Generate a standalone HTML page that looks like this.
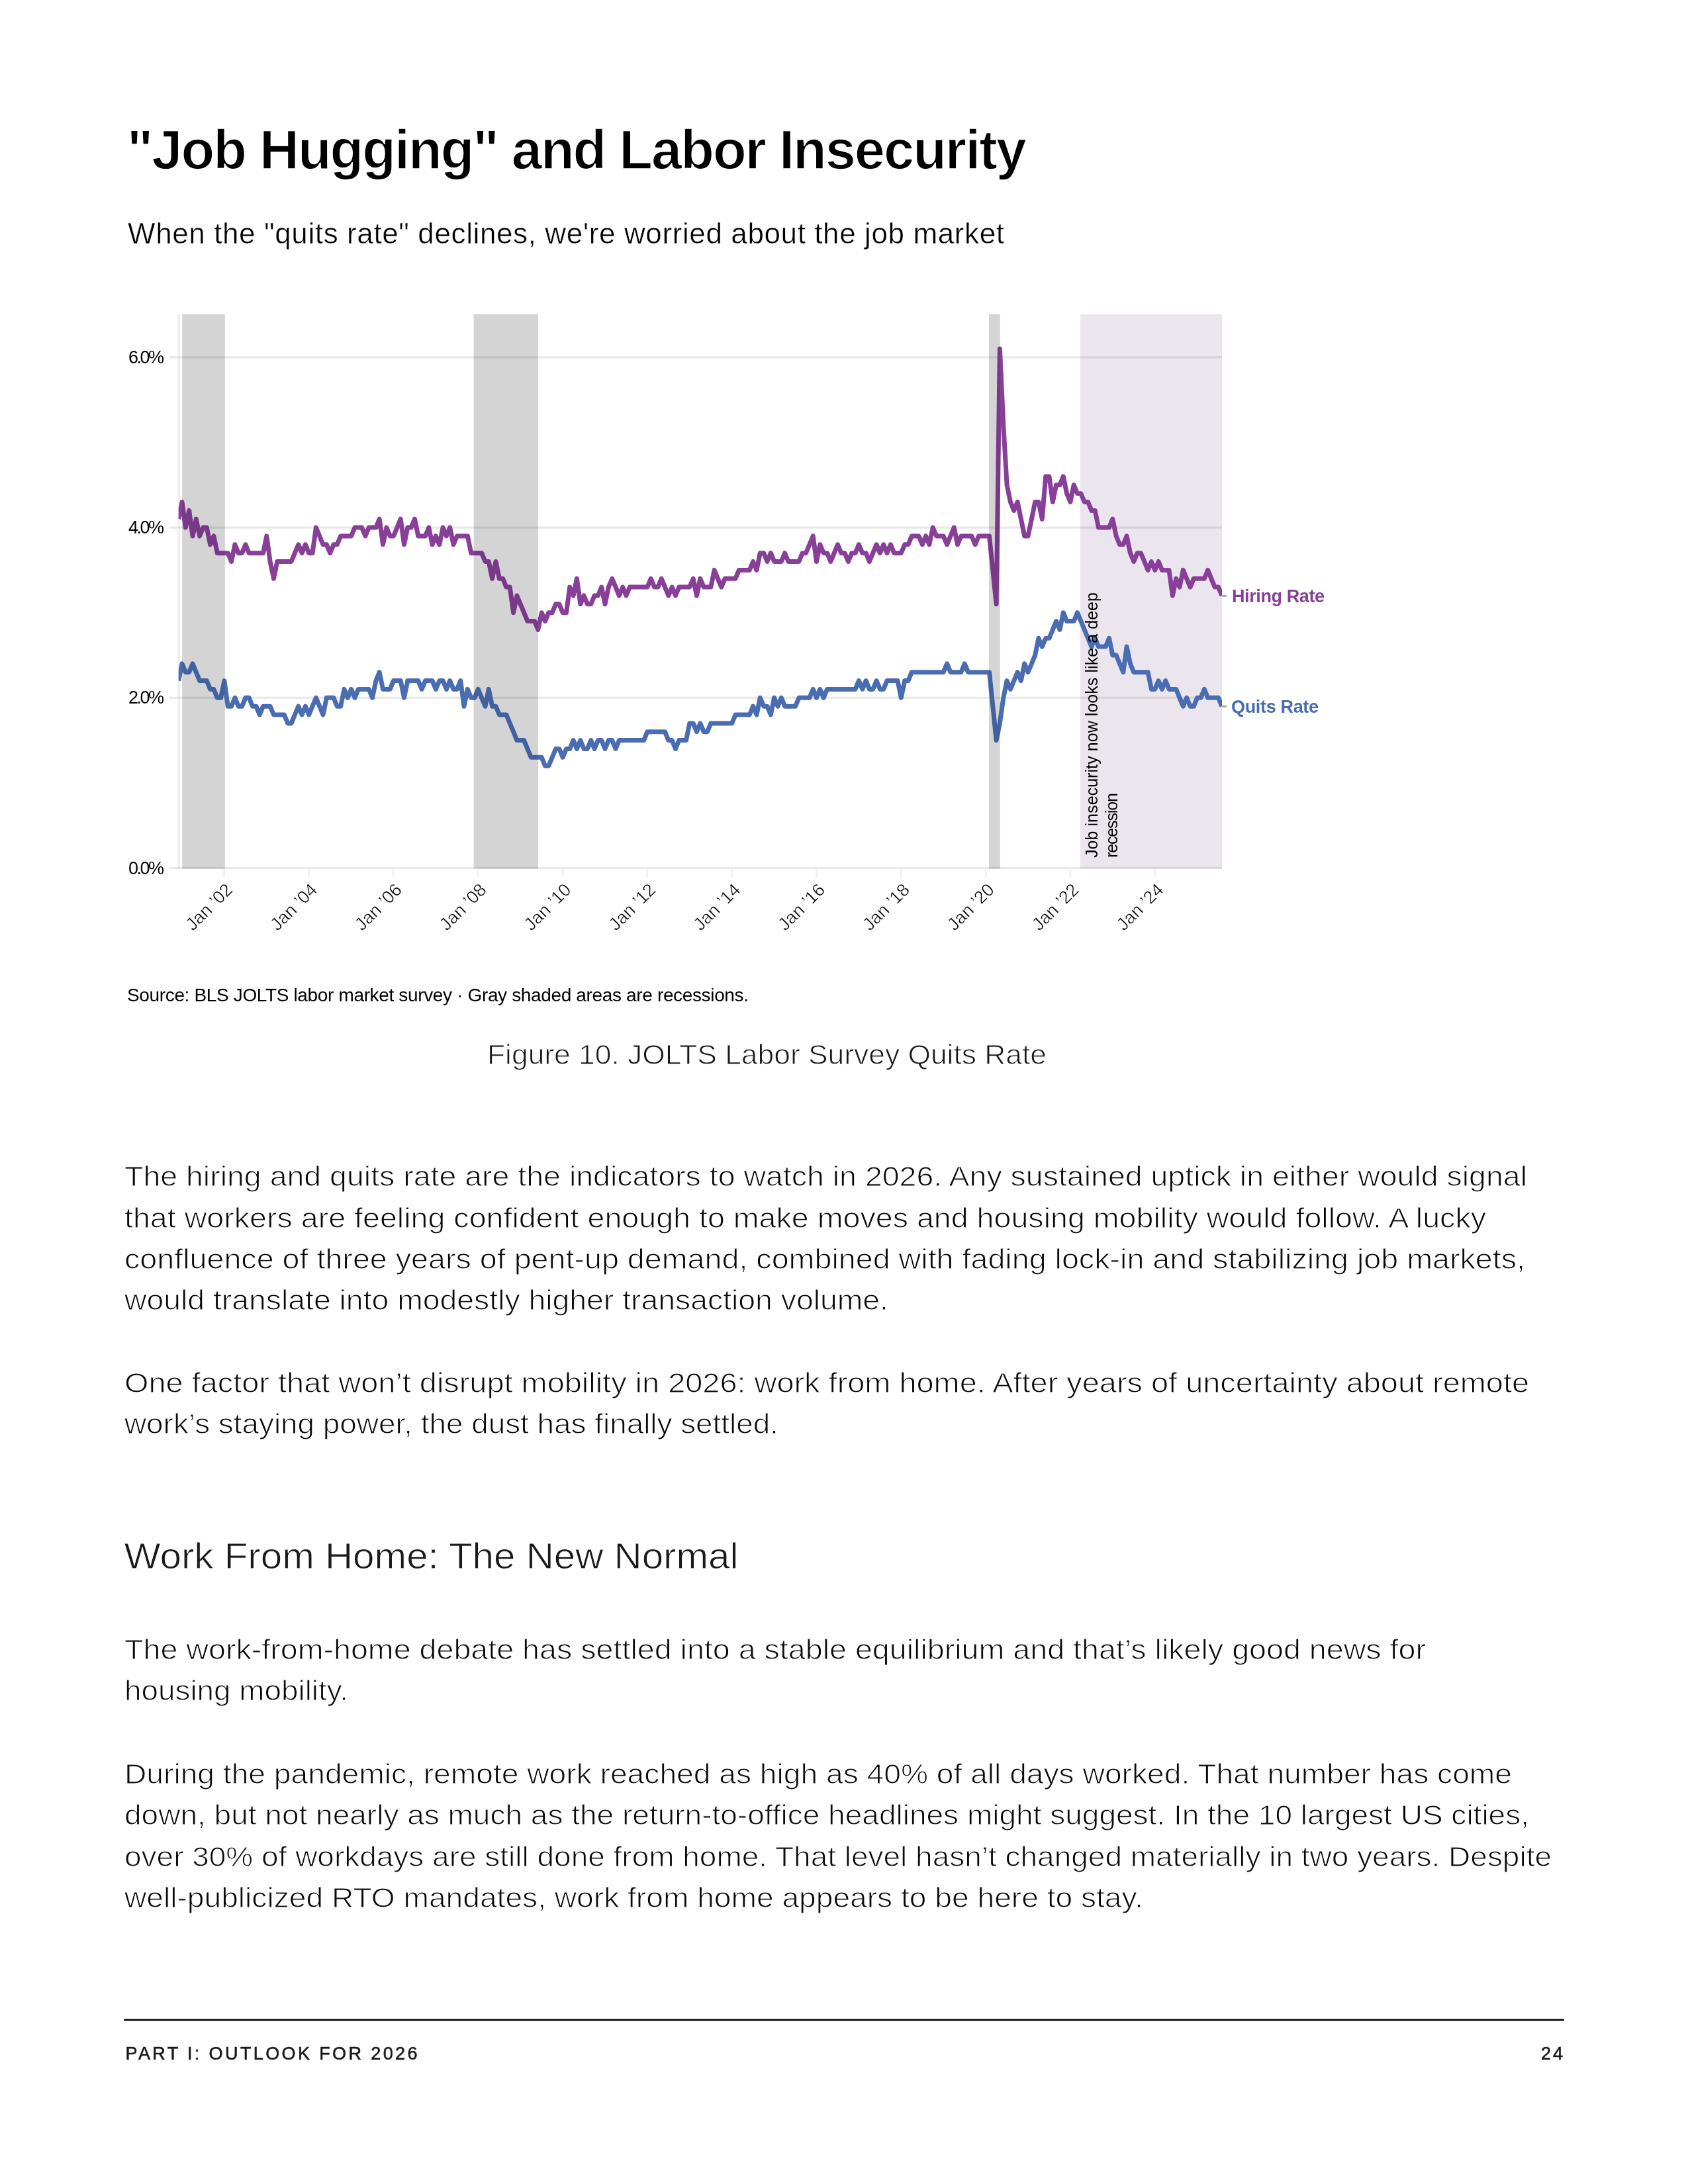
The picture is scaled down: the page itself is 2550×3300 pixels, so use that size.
<!DOCTYPE html>
<html><head><meta charset="utf-8"><title>Job Hugging</title>
<style>
html,body{margin:0;padding:0;background:#fff;}
body{width:2550px;height:3300px;overflow:hidden;}
svg{display:block;}
text{font-family:"Liberation Sans", sans-serif;}
</style></head><body>
<svg width="2550" height="3300" viewBox="0 0 2550 3300">
<rect x="0" y="0" width="2550" height="3300" fill="#fff"/>
<text x="192" y="254.5" font-size="83" font-weight="bold" fill="#000" textLength="1359" lengthAdjust="spacing" stroke="#fff" stroke-width="1.6">"Job Hugging" and Labor Insecurity</text>
<text x="193" y="368" font-size="44" font-weight="normal" fill="#000" textLength="1324" lengthAdjust="spacing" stroke="#fff" stroke-width="0.5">When the "quits rate" declines, we're worried about the job market</text>
<defs><clipPath id="plotclip"><rect x="269.7" y="400" width="1576.3" height="1000"/></clipPath></defs>
<rect x="1632" y="474.8" width="214" height="837.7" fill="#ebe6ed"/>
<rect x="275.2" y="474.8" width="64.7" height="837.7" fill="#edecee"/>
<rect x="715.6" y="474.8" width="97.3" height="837.7" fill="#edecee"/>
<rect x="1494" y="474.8" width="16.8" height="837.7" fill="#edecee"/>
<rect x="268.4" y="474.8" width="3.6" height="837.7" fill="#efefef"/>
<rect x="255" y="1309.9" width="1591" height="3.2" fill="#e9e9e9" style="mix-blend-mode:multiply"/>
<rect x="255" y="1052.7" width="1591" height="3.2" fill="#e9e9e9" style="mix-blend-mode:multiply"/>
<rect x="255" y="795.5" width="1591" height="3.2" fill="#e9e9e9" style="mix-blend-mode:multiply"/>
<rect x="255" y="538.3" width="1591" height="3.2" fill="#e9e9e9" style="mix-blend-mode:multiply"/>
<rect x="337.3" y="1313" width="2.4" height="13" fill="#efefef"/>
<rect x="465.2" y="1313" width="2.4" height="13" fill="#efefef"/>
<rect x="593.0" y="1313" width="2.4" height="13" fill="#efefef"/>
<rect x="720.8" y="1313" width="2.4" height="13" fill="#efefef"/>
<rect x="848.7" y="1313" width="2.4" height="13" fill="#efefef"/>
<rect x="976.5" y="1313" width="2.4" height="13" fill="#efefef"/>
<rect x="1104.4" y="1313" width="2.4" height="13" fill="#efefef"/>
<rect x="1232.2" y="1313" width="2.4" height="13" fill="#efefef"/>
<rect x="1360.1" y="1313" width="2.4" height="13" fill="#efefef"/>
<rect x="1487.9" y="1313" width="2.4" height="13" fill="#efefef"/>
<rect x="1615.8" y="1313" width="2.4" height="13" fill="#efefef"/>
<rect x="1743.6" y="1313" width="2.4" height="13" fill="#efefef"/>
<path d="M269.7,784.2 L275.0,758.5 L280.3,797.1 L285.7,771.4 L291.0,810.0 L296.3,784.2 L301.6,810.0 L307.0,797.1 L312.3,797.1 L317.6,822.8 L322.9,810.0 L328.3,835.7 L333.6,835.7 L338.9,835.7 L344.2,835.7 L349.6,848.5 L354.9,822.8 L360.2,835.7 L365.6,835.7 L370.9,822.8 L376.2,835.7 L381.5,835.7 L386.9,835.7 L392.2,835.7 L397.5,835.7 L402.8,810.0 L408.1,848.5 L413.5,874.3 L418.8,848.5 L424.1,848.5 L429.4,848.5 L434.8,848.5 L440.1,848.5 L445.4,835.7 L450.8,822.8 L456.1,835.7 L461.4,822.8 L466.7,835.7 L472.0,835.7 L477.4,797.1 L482.7,810.0 L488.0,822.8 L493.4,822.8 L498.7,835.7 L504.0,822.8 L509.3,822.8 L514.6,810.0 L520.0,810.0 L525.3,810.0 L530.6,810.0 L536.0,797.1 L541.3,797.1 L546.6,797.1 L551.9,810.0 L557.2,797.1 L562.6,797.1 L567.9,797.1 L573.2,784.2 L578.5,822.8 L583.9,797.1 L589.2,810.0 L594.5,810.0 L599.9,797.1 L605.2,784.2 L610.5,822.8 L615.8,797.1 L621.1,797.1 L626.5,784.2 L631.8,810.0 L637.1,810.0 L642.5,810.0 L647.8,797.1 L653.1,822.8 L658.4,810.0 L663.8,822.8 L669.1,797.1 L674.4,810.0 L679.7,797.1 L685.0,822.8 L690.4,810.0 L695.7,810.0 L701.0,810.0 L706.4,810.0 L711.7,835.7 L717.0,835.7 L722.3,835.7 L727.6,835.7 L733.0,848.5 L738.3,848.5 L743.6,874.3 L749.0,848.5 L754.3,874.3 L759.6,874.3 L764.9,887.1 L770.2,887.1 L775.6,925.7 L780.9,900.0 L786.2,912.8 L791.5,925.7 L796.9,938.6 L802.2,938.6 L807.5,938.6 L812.8,951.4 L818.2,925.7 L823.5,938.6 L828.8,925.7 L834.2,925.7 L839.5,912.8 L844.8,912.8 L850.1,925.7 L855.5,925.7 L860.8,887.1 L866.1,900.0 L871.4,874.3 L876.8,912.8 L882.1,900.0 L887.4,912.8 L892.7,912.8 L898.0,900.0 L903.4,900.0 L908.7,887.1 L914.0,912.8 L919.3,887.1 L924.7,874.3 L930.0,887.1 L935.3,900.0 L940.7,887.1 L946.0,900.0 L951.3,887.1 L956.6,887.1 L962.0,887.1 L967.3,887.1 L972.6,887.1 L977.9,887.1 L983.2,874.3 L988.6,887.1 L993.9,887.1 L999.2,874.3 L1004.5,887.1 L1009.9,900.0 L1015.2,887.1 L1020.5,900.0 L1025.8,887.1 L1031.2,887.1 L1036.5,887.1 L1041.8,887.1 L1047.2,874.3 L1052.5,900.0 L1057.8,874.3 L1063.1,887.1 L1068.5,887.1 L1073.8,887.1 L1079.1,861.4 L1084.4,874.3 L1089.8,887.1 L1095.1,874.3 L1100.4,874.3 L1105.7,874.3 L1111.0,874.3 L1116.4,861.4 L1121.7,861.4 L1127.0,861.4 L1132.3,861.4 L1137.7,848.5 L1143.0,861.4 L1148.3,835.7 L1153.7,835.7 L1159.0,848.5 L1164.3,835.7 L1169.6,848.5 L1175.0,848.5 L1180.3,848.5 L1185.6,835.7 L1190.9,848.5 L1196.2,848.5 L1201.6,848.5 L1206.9,848.5 L1212.2,835.7 L1217.5,835.7 L1222.9,822.8 L1228.2,810.0 L1233.5,848.5 L1238.8,822.8 L1244.2,835.7 L1249.5,835.7 L1254.8,848.5 L1260.2,835.7 L1265.5,822.8 L1270.8,835.7 L1276.1,835.7 L1281.5,848.5 L1286.8,835.7 L1292.1,835.7 L1297.4,822.8 L1302.8,835.7 L1308.1,835.7 L1313.4,848.5 L1318.7,835.7 L1324.1,822.8 L1329.4,835.7 L1334.7,822.8 L1340.0,835.7 L1345.4,822.8 L1350.7,835.7 L1356.0,835.7 L1361.3,835.7 L1366.7,822.8 L1372.0,822.8 L1377.3,810.0 L1382.6,810.0 L1388.0,810.0 L1393.3,822.8 L1398.6,810.0 L1403.9,822.8 L1409.2,797.1 L1414.6,810.0 L1419.9,810.0 L1425.2,810.0 L1430.6,822.8 L1435.9,810.0 L1441.2,797.1 L1446.5,822.8 L1451.9,810.0 L1457.2,810.0 L1462.5,810.0 L1467.8,810.0 L1473.2,822.8 L1478.5,810.0 L1483.8,810.0 L1489.1,810.0 L1494.5,810.0 L1499.8,861.4 L1505.1,912.8 L1510.4,527.0 L1515.8,642.8 L1521.1,732.8 L1526.4,758.5 L1531.7,771.4 L1537.1,758.5 L1542.4,784.2 L1547.7,810.0 L1553.0,810.0 L1558.4,784.2 L1563.7,758.5 L1569.0,758.5 L1574.3,784.2 L1579.7,719.9 L1585.0,719.9 L1590.3,758.5 L1595.6,732.8 L1601.0,732.8 L1606.3,719.9 L1611.6,745.7 L1616.9,758.5 L1622.2,732.8 L1627.6,745.7 L1632.9,745.7 L1638.2,758.5 L1643.6,758.5 L1648.9,771.4 L1654.2,771.4 L1659.5,797.1 L1664.9,797.1 L1670.2,797.1 L1675.5,797.1 L1680.8,784.2 L1686.2,810.0 L1691.5,822.8 L1696.8,822.8 L1702.1,810.0 L1707.5,835.7 L1712.8,848.5 L1718.1,835.7 L1723.4,835.7 L1728.8,848.5 L1734.1,861.4 L1739.4,848.5 L1744.7,861.4 L1750.1,848.5 L1755.4,861.4 L1760.7,861.4 L1766.0,861.4 L1771.4,900.0 L1776.7,874.3 L1782.0,887.1 L1787.3,861.4 L1792.7,874.3 L1798.0,887.1 L1803.3,874.3 L1808.6,874.3 L1814.0,874.3 L1819.3,874.3 L1824.6,861.4 L1829.9,874.3 L1835.2,887.1 L1840.6,887.1 L1845.9,900.0" fill="none" stroke="#883f98" stroke-width="7" clip-path="url(#plotclip)" stroke-linejoin="round" stroke-linecap="butt"/>
<path d="M269.7,1028.6 L275.0,1002.9 L280.3,1015.7 L285.7,1015.7 L291.0,1002.9 L296.3,1015.7 L301.6,1028.6 L307.0,1028.6 L312.3,1028.6 L317.6,1041.4 L322.9,1041.4 L328.3,1054.3 L333.6,1054.3 L338.9,1028.6 L344.2,1067.2 L349.6,1067.2 L354.9,1054.3 L360.2,1067.2 L365.6,1067.2 L370.9,1054.3 L376.2,1054.3 L381.5,1067.2 L386.9,1067.2 L392.2,1080.0 L397.5,1067.2 L402.8,1067.2 L408.1,1067.2 L413.5,1080.0 L418.8,1080.0 L424.1,1080.0 L429.4,1080.0 L434.8,1092.9 L440.1,1092.9 L445.4,1080.0 L450.8,1067.2 L456.1,1080.0 L461.4,1067.2 L466.7,1080.0 L472.0,1067.2 L477.4,1054.3 L482.7,1067.2 L488.0,1080.0 L493.4,1054.3 L498.7,1054.3 L504.0,1054.3 L509.3,1067.2 L514.6,1067.2 L520.0,1041.4 L525.3,1054.3 L530.6,1041.4 L536.0,1054.3 L541.3,1041.4 L546.6,1041.4 L551.9,1041.4 L557.2,1041.4 L562.6,1054.3 L567.9,1028.6 L573.2,1015.7 L578.5,1041.4 L583.9,1041.4 L589.2,1041.4 L594.5,1028.6 L599.9,1028.6 L605.2,1028.6 L610.5,1054.3 L615.8,1028.6 L621.1,1028.6 L626.5,1028.6 L631.8,1028.6 L637.1,1041.4 L642.5,1028.6 L647.8,1028.6 L653.1,1028.6 L658.4,1041.4 L663.8,1028.6 L669.1,1028.6 L674.4,1041.4 L679.7,1028.6 L685.0,1041.4 L690.4,1041.4 L695.7,1028.6 L701.0,1067.2 L706.4,1041.4 L711.7,1054.3 L717.0,1054.3 L722.3,1041.4 L727.6,1054.3 L733.0,1067.2 L738.3,1041.4 L743.6,1067.2 L749.0,1067.2 L754.3,1080.0 L759.6,1080.0 L764.9,1080.0 L770.2,1092.9 L775.6,1105.7 L780.9,1118.6 L786.2,1118.6 L791.5,1118.6 L796.9,1131.5 L802.2,1144.3 L807.5,1144.3 L812.8,1144.3 L818.2,1144.3 L823.5,1157.2 L828.8,1157.2 L834.2,1144.3 L839.5,1131.5 L844.8,1131.5 L850.1,1144.3 L855.5,1131.5 L860.8,1131.5 L866.1,1118.6 L871.4,1131.5 L876.8,1118.6 L882.1,1131.5 L887.4,1131.5 L892.7,1118.6 L898.0,1131.5 L903.4,1118.6 L908.7,1118.6 L914.0,1131.5 L919.3,1118.6 L924.7,1118.6 L930.0,1131.5 L935.3,1118.6 L940.7,1118.6 L946.0,1118.6 L951.3,1118.6 L956.6,1118.6 L962.0,1118.6 L967.3,1118.6 L972.6,1118.6 L977.9,1105.7 L983.2,1105.7 L988.6,1105.7 L993.9,1105.7 L999.2,1105.7 L1004.5,1105.7 L1009.9,1118.6 L1015.2,1118.6 L1020.5,1131.5 L1025.8,1118.6 L1031.2,1118.6 L1036.5,1118.6 L1041.8,1092.9 L1047.2,1092.9 L1052.5,1105.7 L1057.8,1092.9 L1063.1,1105.7 L1068.5,1105.7 L1073.8,1092.9 L1079.1,1092.9 L1084.4,1092.9 L1089.8,1092.9 L1095.1,1092.9 L1100.4,1092.9 L1105.7,1092.9 L1111.0,1080.0 L1116.4,1080.0 L1121.7,1080.0 L1127.0,1080.0 L1132.3,1080.0 L1137.7,1067.2 L1143.0,1080.0 L1148.3,1054.3 L1153.7,1067.2 L1159.0,1067.2 L1164.3,1080.0 L1169.6,1054.3 L1175.0,1067.2 L1180.3,1054.3 L1185.6,1067.2 L1190.9,1067.2 L1196.2,1067.2 L1201.6,1067.2 L1206.9,1054.3 L1212.2,1054.3 L1217.5,1054.3 L1222.9,1054.3 L1228.2,1041.4 L1233.5,1054.3 L1238.8,1041.4 L1244.2,1054.3 L1249.5,1041.4 L1254.8,1041.4 L1260.2,1041.4 L1265.5,1041.4 L1270.8,1041.4 L1276.1,1041.4 L1281.5,1041.4 L1286.8,1041.4 L1292.1,1041.4 L1297.4,1028.6 L1302.8,1041.4 L1308.1,1028.6 L1313.4,1041.4 L1318.7,1041.4 L1324.1,1028.6 L1329.4,1041.4 L1334.7,1041.4 L1340.0,1028.6 L1345.4,1028.6 L1350.7,1028.6 L1356.0,1028.6 L1361.3,1054.3 L1366.7,1028.6 L1372.0,1028.6 L1377.3,1015.7 L1382.6,1015.7 L1388.0,1015.7 L1393.3,1015.7 L1398.6,1015.7 L1403.9,1015.7 L1409.2,1015.7 L1414.6,1015.7 L1419.9,1015.7 L1425.2,1015.7 L1430.6,1002.9 L1435.9,1015.7 L1441.2,1015.7 L1446.5,1015.7 L1451.9,1015.7 L1457.2,1002.9 L1462.5,1015.7 L1467.8,1015.7 L1473.2,1015.7 L1478.5,1015.7 L1483.8,1015.7 L1489.1,1015.7 L1494.5,1015.7 L1499.8,1067.2 L1505.1,1118.6 L1510.4,1092.9 L1515.8,1054.3 L1521.1,1028.6 L1526.4,1041.4 L1531.7,1028.6 L1537.1,1015.7 L1542.4,1028.6 L1547.7,1002.9 L1553.0,1015.7 L1558.4,1002.9 L1563.7,990.0 L1569.0,964.3 L1574.3,977.1 L1579.7,964.3 L1585.0,964.3 L1590.3,951.4 L1595.6,938.6 L1601.0,951.4 L1606.3,925.7 L1611.6,938.6 L1616.9,938.6 L1622.2,938.6 L1627.6,925.7 L1632.9,938.6 L1638.2,951.4 L1643.6,964.3 L1648.9,977.1 L1654.2,964.3 L1659.5,977.1 L1664.9,977.1 L1670.2,977.1 L1675.5,964.3 L1680.8,990.0 L1686.2,990.0 L1691.5,1002.9 L1696.8,1015.7 L1702.1,977.1 L1707.5,1002.9 L1712.8,1015.7 L1718.1,1015.7 L1723.4,1015.7 L1728.8,1015.7 L1734.1,1015.7 L1739.4,1041.4 L1744.7,1041.4 L1750.1,1028.6 L1755.4,1041.4 L1760.7,1028.6 L1766.0,1041.4 L1771.4,1041.4 L1776.7,1041.4 L1782.0,1054.3 L1787.3,1067.2 L1792.7,1054.3 L1798.0,1067.2 L1803.3,1067.2 L1808.6,1054.3 L1814.0,1054.3 L1819.3,1041.4 L1824.6,1054.3 L1829.9,1054.3 L1835.2,1054.3 L1840.6,1054.3 L1845.9,1067.2" fill="none" stroke="#4a6db2" stroke-width="7" clip-path="url(#plotclip)" stroke-linejoin="round" stroke-linecap="butt"/>
<rect x="275.2" y="474.8" width="64.7" height="837.7" fill="#000" fill-opacity="0.1"/>
<rect x="715.6" y="474.8" width="97.3" height="837.7" fill="#000" fill-opacity="0.1"/>
<rect x="1494" y="474.8" width="16.8" height="837.7" fill="#000" fill-opacity="0.1"/>
<rect x="1846" y="898.8" width="7" height="3" fill="#a9a9a9"/>
<rect x="1846" y="1065.9" width="7" height="3" fill="#a9a9a9"/>
<text x="1861" y="909.8" font-size="27" font-weight="bold" fill="#883f98" textLength="140" lengthAdjust="spacing" >Hiring Rate</text>
<text x="1860" y="1076.9" font-size="27" font-weight="bold" fill="#4a6db2" textLength="132" lengthAdjust="spacing" >Quits Rate</text>
<text x="194" y="548.9" font-size="27" font-weight="normal" fill="#000" textLength="54" lengthAdjust="spacing" >6.0%</text>
<text x="194" y="806.1" font-size="27" font-weight="normal" fill="#000" textLength="54" lengthAdjust="spacing" >4.0%</text>
<text x="194" y="1063.3" font-size="27" font-weight="normal" fill="#000" textLength="54" lengthAdjust="spacing" >2.0%</text>
<text x="194" y="1320.5" font-size="27" font-weight="normal" fill="#000" textLength="54" lengthAdjust="spacing" >0.0%</text>
<text x="353.0" y="1346" font-size="27" fill="#000" stroke="#fff" stroke-width="0.5" text-anchor="end" transform="rotate(-45 353.0 1346)">Jan &#8217;02</text>
<text x="480.9" y="1346" font-size="27" fill="#000" stroke="#fff" stroke-width="0.5" text-anchor="end" transform="rotate(-45 480.9 1346)">Jan &#8217;04</text>
<text x="608.7" y="1346" font-size="27" fill="#000" stroke="#fff" stroke-width="0.5" text-anchor="end" transform="rotate(-45 608.7 1346)">Jan &#8217;06</text>
<text x="736.5" y="1346" font-size="27" fill="#000" stroke="#fff" stroke-width="0.5" text-anchor="end" transform="rotate(-45 736.5 1346)">Jan &#8217;08</text>
<text x="864.4" y="1346" font-size="27" fill="#000" stroke="#fff" stroke-width="0.5" text-anchor="end" transform="rotate(-45 864.4 1346)">Jan &#8217;10</text>
<text x="992.2" y="1346" font-size="27" fill="#000" stroke="#fff" stroke-width="0.5" text-anchor="end" transform="rotate(-45 992.2 1346)">Jan &#8217;12</text>
<text x="1120.1" y="1346" font-size="27" fill="#000" stroke="#fff" stroke-width="0.5" text-anchor="end" transform="rotate(-45 1120.1 1346)">Jan &#8217;14</text>
<text x="1247.9" y="1346" font-size="27" fill="#000" stroke="#fff" stroke-width="0.5" text-anchor="end" transform="rotate(-45 1247.9 1346)">Jan &#8217;16</text>
<text x="1375.8" y="1346" font-size="27" fill="#000" stroke="#fff" stroke-width="0.5" text-anchor="end" transform="rotate(-45 1375.8 1346)">Jan &#8217;18</text>
<text x="1503.6" y="1346" font-size="27" fill="#000" stroke="#fff" stroke-width="0.5" text-anchor="end" transform="rotate(-45 1503.6 1346)">Jan &#8217;20</text>
<text x="1631.5" y="1346" font-size="27" fill="#000" stroke="#fff" stroke-width="0.5" text-anchor="end" transform="rotate(-45 1631.5 1346)">Jan &#8217;22</text>
<text x="1759.3" y="1346" font-size="27" fill="#000" stroke="#fff" stroke-width="0.5" text-anchor="end" transform="rotate(-45 1759.3 1346)">Jan &#8217;24</text>
<text x="0" y="0" font-size="25" fill="#000" transform="translate(1658.4 1296) rotate(-90)" textLength="401" lengthAdjust="spacing">Job insecurity now looks like a deep</text>
<text x="0" y="0" font-size="25" fill="#000" transform="translate(1687.6 1296) rotate(-90)" textLength="98" lengthAdjust="spacing">recession</text>
<text x="192" y="1512.6" font-size="28" font-weight="normal" fill="#000" textLength="939" lengthAdjust="spacing" >Source: BLS JOLTS labor market survey · Gray shaded areas are recessions.</text>
<text x="736" y="1607.8" font-size="43" font-weight="normal" fill="#1a1a1a" textLength="845" lengthAdjust="spacingAndGlyphs" stroke="#fff" stroke-width="1">Figure 10. JOLTS Labor Survey Quits Rate</text>
<text x="188" y="1792.4" font-size="42" font-weight="normal" fill="#0a0a0a" textLength="2119" lengthAdjust="spacingAndGlyphs" stroke="#fff" stroke-width="1.05">The hiring and quits rate are the indicators to watch in 2026. Any sustained uptick in either would signal</text>
<text x="188" y="1854.6" font-size="42" font-weight="normal" fill="#0a0a0a" textLength="2057" lengthAdjust="spacingAndGlyphs" stroke="#fff" stroke-width="1.05">that workers are feeling confident enough to make moves and housing mobility would follow. A lucky</text>
<text x="188" y="1916.8" font-size="42" font-weight="normal" fill="#0a0a0a" textLength="2116" lengthAdjust="spacingAndGlyphs" stroke="#fff" stroke-width="1.05">confluence of three years of pent-up demand, combined with fading lock-in and stabilizing job markets,</text>
<text x="188" y="1979" font-size="42" font-weight="normal" fill="#0a0a0a" textLength="1154" lengthAdjust="spacingAndGlyphs" stroke="#fff" stroke-width="1.05">would translate into modestly higher transaction volume.</text>
<text x="188" y="2103.7" font-size="42" font-weight="normal" fill="#0a0a0a" textLength="2122" lengthAdjust="spacingAndGlyphs" stroke="#fff" stroke-width="1.05">One factor that won’t disrupt mobility in 2026: work from home. After years of uncertainty about remote</text>
<text x="188" y="2166" font-size="42" font-weight="normal" fill="#0a0a0a" textLength="988" lengthAdjust="spacingAndGlyphs" stroke="#fff" stroke-width="1.05">work’s staying power, the dust has finally settled.</text>
<text x="187.5" y="2369.9" font-size="56" font-weight="normal" fill="#1a1a1a" textLength="928" lengthAdjust="spacingAndGlyphs" stroke="#fff" stroke-width="0.9">Work From Home: The New Normal</text>
<text x="188" y="2506.9" font-size="42" font-weight="normal" fill="#0a0a0a" textLength="1966" lengthAdjust="spacingAndGlyphs" stroke="#fff" stroke-width="1.05">The work-from-home debate has settled into a stable equilibrium and that’s likely good news for</text>
<text x="188" y="2569.4" font-size="42" font-weight="normal" fill="#0a0a0a" textLength="338" lengthAdjust="spacingAndGlyphs" stroke="#fff" stroke-width="1.05">housing mobility.</text>
<text x="188" y="2694.7" font-size="42" font-weight="normal" fill="#0a0a0a" textLength="2096" lengthAdjust="spacingAndGlyphs" stroke="#fff" stroke-width="1.05">During the pandemic, remote work reached as high as 40% of all days worked. That number has come</text>
<text x="188" y="2757.1" font-size="42" font-weight="normal" fill="#0a0a0a" textLength="2122" lengthAdjust="spacingAndGlyphs" stroke="#fff" stroke-width="1.05">down, but not nearly as much as the return-to-office headlines might suggest. In the 10 largest US cities,</text>
<text x="188" y="2819.5" font-size="42" font-weight="normal" fill="#0a0a0a" textLength="2156" lengthAdjust="spacingAndGlyphs" stroke="#fff" stroke-width="1.05">over 30% of workdays are still done from home. That level hasn’t changed materially in two years. Despite</text>
<text x="188" y="2881.9" font-size="42" font-weight="normal" fill="#0a0a0a" textLength="1539" lengthAdjust="spacingAndGlyphs" stroke="#fff" stroke-width="1.05">well-publicized RTO mandates, work from home appears to be here to stay.</text>
<rect x="187.2" y="3050.7" width="2175.7" height="3" fill="#1a1a1a"/>
<text x="189.5" y="3111.8" font-size="27" font-weight="normal" fill="#1a1a1a" textLength="441" lengthAdjust="spacing" stroke="#1a1a1a" stroke-width="0.6">PART I: OUTLOOK FOR 2026</text>
<text x="2328" y="3111.9" font-size="27" font-weight="normal" fill="#1a1a1a" textLength="33" lengthAdjust="spacing" stroke="#1a1a1a" stroke-width="0.6">24</text>
</svg>
</body></html>
